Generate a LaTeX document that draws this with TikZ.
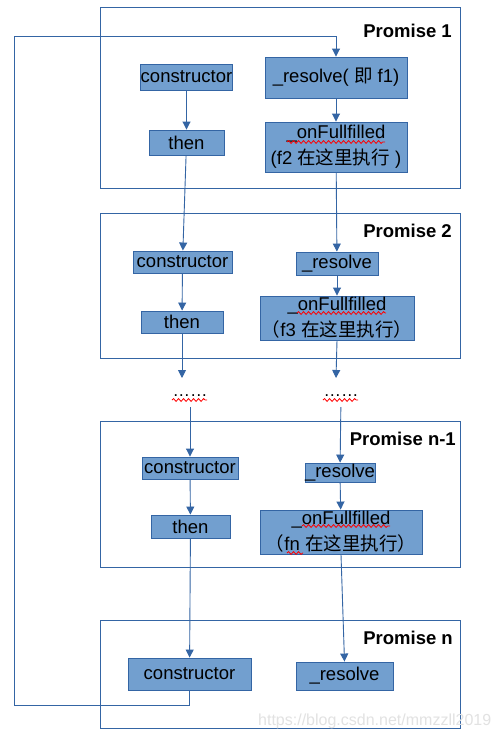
\documentclass[tikz,border=0pt]{standalone}
\usepackage{fontspec}
\setmainfont{Liberation Sans}
\newfontfamily\cjk{Noto Sans CJK SC}
\usetikzlibrary{arrows.meta,decorations.pathmorphing}
\definecolor{lnblue}{HTML}{3465A4}
\definecolor{boxfill}{HTML}{729FCF}
\definecolor{wm}{HTML}{E2E2E2}
\tikzset{
  x=1pt,y=-1pt,
  blk/.style={draw=lnblue,fill=boxfill,line width=0.9pt,inner sep=0pt,align=center,font=\fontsize{18.5}{26}\selectfont,text=black},
  frame/.style={draw=lnblue,line width=0.9pt,inner sep=0pt},
  ptitle/.style={font=\fontsize{18.5}{22}\selectfont\bfseries,anchor=east,inner sep=0pt},
  arr/.style={draw=lnblue,line width=0.9pt,-{Triangle[length=8pt,width=8pt]}},
  ln/.style={draw=lnblue,line width=0.9pt},
  dots/.style={font=\fontsize{17.5}{20}\selectfont,inner sep=0pt},
  squig/.style={draw=red,line width=0.8pt,decorate,decoration={snake,segment length=5pt,amplitude=1.4pt}}
}
\begin{document}
\begin{tikzpicture}
\useasboundingbox[fill=white] (0,0) rectangle (499,739);
% promise frames
\node[frame,minimum width=360pt,minimum height=181pt] (p1) at (280,97.5) {};
\node[frame,minimum width=360pt,minimum height=145pt] (p2) at (280,285.5) {};
\node[frame,minimum width=360pt,minimum height=146pt] (p3) at (280,494) {};
\node[frame,minimum width=360pt,minimum height=108pt] (p4) at (280,674) {};
\node[ptitle] (l1) at (452,31) {Promise 1};
\node[ptitle] (l2) at (452,231) {Promise 2};
\node[ptitle] (l3) at (456,439) {Promise n-1};
\node[ptitle] (l4) at (453,638) {Promise n};
% Promise 1
\node[blk,minimum width=91pt,minimum height=26pt] (c1) at (186.5,77) {constructor};
\node[blk,minimum width=142pt,minimum height=41pt] (r1) at (336,77.5) {\_resolve( {\cjk 即} f1)};
\node[blk,minimum width=75pt,minimum height=25pt] (t1) at (186.5,142.5) {then};
\node[blk,minimum width=142pt,minimum height=50pt] (o1) at (336,147) {\_onFullfilled\\(f2 {\cjk 在这里执行} )};
% Promise 2
\node[blk,minimum width=99pt,minimum height=22pt] (c2) at (182.5,262) {constructor};
\node[blk,minimum width=82pt,minimum height=23pt] (r2) at (337,263.5) {\_resolve};
\node[blk,minimum width=82pt,minimum height=22pt] (t2) at (182,322) {then};
\node[blk,minimum width=154pt,minimum height=44pt] (o2) at (337,318) {\_onFullfilled\\{\cjk （}f3 {\cjk 在这里执行）}};
% dots
\coordinate (a1) at (182,378);
\coordinate (a2) at (336,378);
\node[dots,minimum height=22pt] (d1) at (190,396) {……};
\node[dots,minimum height=22pt] (d2) at (341,396) {……};
% Promise n-1
\node[blk,minimum width=96pt,minimum height=22pt] (c3) at (190,468) {constructor};
\node[blk,minimum width=70pt,minimum height=19pt] (r3) at (340,472.5) {\_resolve};
\node[blk,minimum width=79pt,minimum height=23pt] (t3) at (190.5,526.5) {then};
\node[blk,minimum width=162pt,minimum height=44pt] (o3) at (341,532) {\_onFullfilled\\{\cjk （}fn {\cjk 在这里执行）}};
% Promise n
\node[blk,minimum width=123pt,minimum height=32pt] (c4) at (189.5,674) {constructor};
\node[blk,minimum width=97pt,minimum height=28pt] (r4) at (344.5,676) {\_resolve};
% squiggles
\draw[squig] (172,400) -- (207,400);
\draw[squig] (323,400) -- (358,400);
\draw[squig] (287,142) -- (385,142);
\draw[squig] (297,313) -- (386,313);
\draw[squig] (302,526) -- (390,526);
\draw[squig] (287,553) -- (303,553);
% connectors
\draw[arr] (c1) -- (t1);
\draw[arr] (r1) -- (o1);
\draw[arr] (t1) -- (c2);
\draw[arr] (o1) -- (r2);
\draw[arr] (c2) -- (t2);
\draw[arr] (r2) -- (o2);
\draw[arr] (t2) -- (a1);
\draw[arr] (o2.south) -- (a2);
\draw[arr] (d1) -- (c3);
\draw[arr] (d2) -- (r3);
\draw[arr] (c3) -- (t3);
\draw[arr] (r3) -- (o3);
\draw[arr] (t3) -- (c4);
\draw[arr] (o3.south) -- (r4.north);
\draw[arr] (c4.south) -- ++(0,15) -| (14,36) -| (r1.north);
% watermark
\node[font=\fontsize{16}{18}\selectfont,text=wm,anchor=west,inner sep=0pt] (wmk) at (258,721) {https://blog.csdn.net/mmzzll2019};
\end{tikzpicture}
\end{document}
